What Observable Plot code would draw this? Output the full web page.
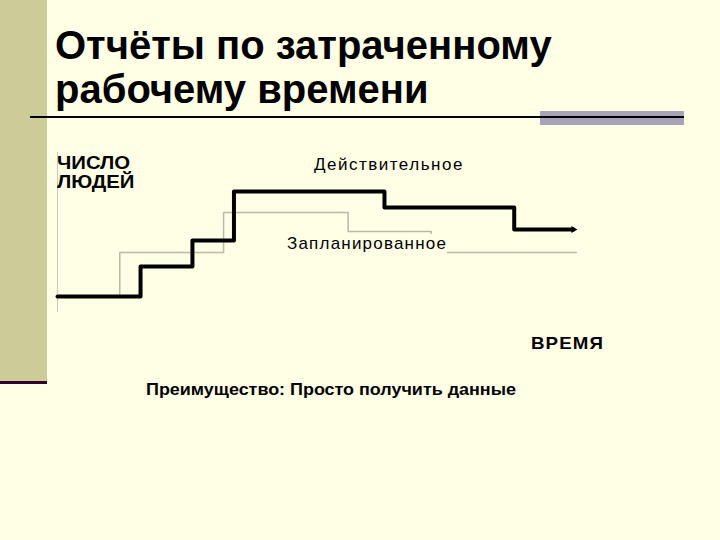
<!DOCTYPE html>
<html>
<head>
<meta charset="utf-8">
<script src="https://cdn.jsdelivr.net/npm/d3@7"></script>
<script src="https://cdn.jsdelivr.net/npm/@observablehq/plot@0.6"></script>
<style>
  html, body { margin: 0; padding: 0; background: #FFFFE6; }
  #page { position: relative; width: 720px; height: 540px; background: #FFFFE6; overflow: hidden;
          font-family: "Liberation Sans", Arial, sans-serif; color: #000; }
  .abs { position: absolute; white-space: nowrap; transform-origin: 0 0; }
  #chart { position: absolute; left: 0; top: 0; }
</style>
</head>
<body>
<div id="page">
  <div class="abs" style="left:0;top:0;width:47px;height:381px;background:#CCCC99;"></div>
  <div class="abs" style="left:0;top:381px;width:47px;height:3px;background:#330033;"></div>
  <div class="abs" id="title" style="left:55px;top:23px;font-size:40px;font-weight:bold;line-height:44px;">Отчёты по затраченному<br>рабочему времени</div>
  <div class="abs" style="left:540px;top:111px;width:144px;height:14px;background:#A9A3B8;"></div>
  <div class="abs" style="left:30px;top:116px;width:654px;height:2px;background:#000;"></div>
  <div id="chart"></div>
  <div class="abs" id="ylab" style="left:57px;top:154px;font-size:18px;line-height:19px;font-weight:bold;transform:scaleX(1.13);">ЧИСЛО<br>ЛЮДЕЙ</div>
  <div class="abs" id="lab1" style="left:314px;top:155px;font-size:17px;line-height:19px;letter-spacing:1.5px;">Действительное</div>
  <div class="abs" id="lab2" style="left:287px;top:234px;font-size:17px;line-height:19px;letter-spacing:1.2px;background:#FFFFE6;padding:0 0 2px 0;">Запланированное</div>
  <div class="abs" id="xlab" style="left:531px;top:334px;font-size:17px;line-height:19px;font-weight:bold;letter-spacing:1px;transform:scaleX(1.1);">ВРЕМЯ</div>
  <div class="abs" id="cap" style="left:146px;top:381px;font-size:16px;line-height:18px;font-weight:bold;transform:scaleX(1.12);">Преимущество: Просто получить данные</div>
</div>
<script>
// time units (arbitrary) and number of people
const actualT = [0, 8, 13, 17, 31.5, 44, 49.7];
const actualN = [1.6, 4.6, 7.2, 12.1, 10.5, 8.3, 8.3];
const plannedT = [0, 6, 16, 28, 36, 50];
const plannedN = [1.6, 6, 10, 8.1, 6, 6];

const actual = actualT.map((t, i) => ({t, n: actualN[i]}));
const planned = plannedT.map((t, i) => ({t, n: plannedN[i]}));
const actualEnd = actual.slice(-1);

const chart = Plot.plot({
  width: 720,
  height: 540,
  marginLeft: 57,
  marginRight: 144,
  marginTop: 152,
  marginBottom: 228,
  style: {background: "transparent"},
  x: {domain: [0, 50], axis: null},
  y: {domain: [0, 16], axis: null},
  marks: [
    Plot.ruleX([0], {stroke: "#C9C9B4", strokeWidth: 1}),
    Plot.line(planned, {x: "t", y: "n", curve: "step-after", stroke: "#B9B9A6", strokeWidth: 1.5}),
    Plot.line(actual, {x: "t", y: "n", curve: "step-after", stroke: "#000", strokeWidth: 4}),
    Plot.dot(actualEnd, {x: "t", y: "n", symbol: "triangle", rotate: 90, r: 2.6, fill: "#000", stroke: "none"})
  ]
});
document.getElementById("chart").appendChild(chart);
</script>
</body>
</html>
